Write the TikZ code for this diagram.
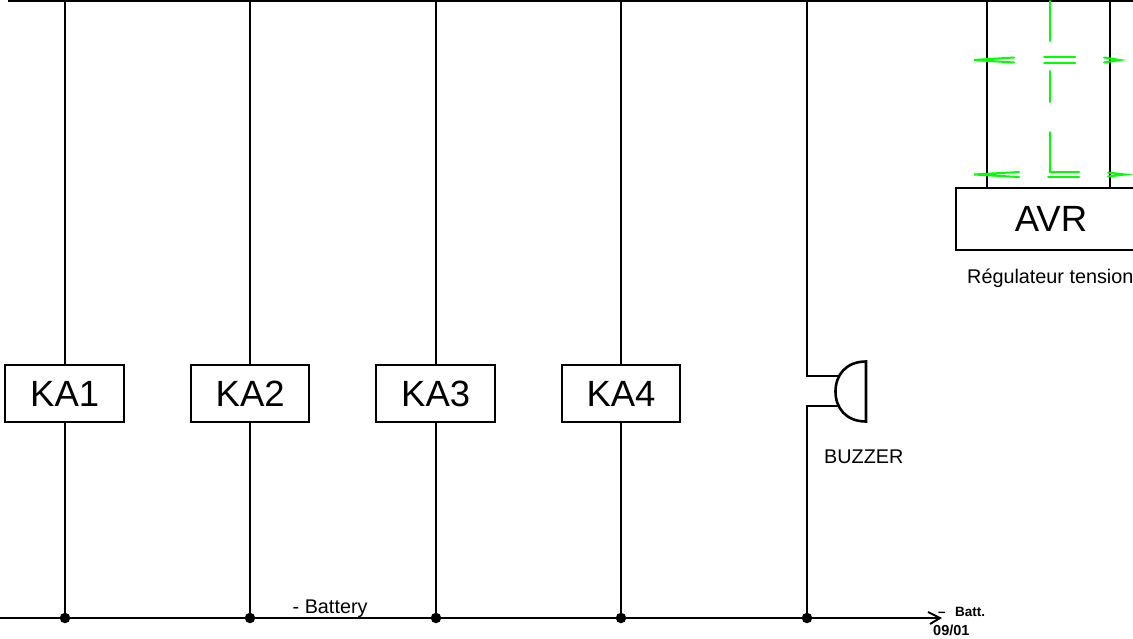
\documentclass[tikz,border=0pt]{standalone}
\usepackage{fontspec}
\setmainfont{Liberation Sans}
\newcommand{\lowered}[2]{\raisebox{-#1pt}{#2}}
\tikzset{
  wire/.style={draw=black,line width=1.8pt},
  relay/.style={draw=black,line width=2pt,minimum width=118.5pt,minimum height=57pt,inner sep=0pt,font=\fontsize{36.5}{36.5}\selectfont},
  avrbox/.style={draw=black,line width=2pt,minimum width=190pt,minimum height=62pt,inner sep=0pt,font=\fontsize{36.5}{36.5}\selectfont},
  junction/.style={circle,fill=black,minimum size=10.5pt,inner sep=0pt},
  lbl/.style={inner sep=0pt,font=\fontsize{19.8}{20}\selectfont},
  small/.style={inner sep=0pt,font=\fontsize{13.5}{14}\selectfont\bfseries},
  greenline/.style={draw=green,line width=2pt,line cap=round},
  x=1pt,y=-1pt
}
\begin{document}
\begin{tikzpicture}
\useasboundingbox (0,0) rectangle (1133,638);
\clip (0,0) rectangle (1133,638);
% relays
\node[relay] (KA1) at (64.7,393.5) {\lowered{2}{KA1}};
\node[relay] (KA2) at (250.2,393.5) {\lowered{2}{KA2}};
\node[relay] (KA3) at (435.7,393.5) {\lowered{2}{KA3}};
\node[relay] (KA4) at (621,393.5) {\lowered{2}{KA4}};
\node[avrbox] (AVR) at (1051,219) {\lowered{2.5}{AVR}};
% rails
\coordinate (topL) at (8,1.2);
\coordinate (topR) at (1133,1.2);
\coordinate (botL) at (0,618);
\coordinate (botR) at (940,618);
\draw[wire,line width=2pt] (topL) -- (topR);
\draw[wire] (botL) -- (botR);
% junctions
\node[junction] (j1) at (65,618) {};
\node[junction] (j2) at (250,618) {};
\node[junction] (j3) at (436,618) {};
\node[junction] (j4) at (621,618) {};
\node[junction] (j5) at (807,618) {};
% rail taps
\coordinate (t1) at (65,1.2);
\coordinate (t2) at (250,1.2);
\coordinate (t3) at (436,1.2);
\coordinate (t4) at (621,1.2);
\coordinate (t5) at (807,1.2);
\coordinate (t6) at (987,1.2);
\coordinate (t7) at (1110,1.2);
\draw[wire] (t1) -- (KA1.north -| t1);
\draw[wire] (t2) -- (KA2.north -| t2);
\draw[wire] (t3) -- (KA3.north -| t3);
\draw[wire] (t4) -- (KA4.north -| t4);
\draw[wire] (KA1.south -| j1) -- (j1);
\draw[wire] (KA2.south -| j2) -- (j2);
\draw[wire] (KA3.south -| j3) -- (j3);
\draw[wire] (KA4.south -| j4) -- (j4);
\draw[wire] (t6) -- (987,188);
\draw[wire] (t7) -- (1110,188);
% buzzer
\coordinate (buzA) at (838,376);
\coordinate (buzB) at (838,406);
\draw[wire] (t5) -- (807,376) -- (buzA);
\draw[wire] (j5) -- (807,406) -- (buzB);
\draw[draw=black,line width=2.6pt] (866,361.5) .. controls (846,361.5) and (835.5,375) .. (835.5,391.5) .. controls (835.5,408) and (846,421.5) .. (866,421.5) -- cycle;
% arrow chevron
\draw[wire,line width=2pt] (928,612) -- (botR) -- (930,624);
% green
\draw[greenline] (1050,1) -- (1050,41);
\draw[greenline] (1050,71) -- (1050,102);
\draw[greenline] (1050,132) -- (1050,172) -- (1079,172);
\draw[greenline] (1048,177) -- (1079,177);
\draw[greenline] (1044,57) -- (1075,57);
\draw[greenline] (1044,62.5) -- (1075,62.5);
\draw[greenline] (1014,57.5) -- (974,60) -- (1014,62.5);
\draw[greenline] (1104,57.5) -- (1120,60) -- (1104,62.5);
\draw[greenline] (1019,172) -- (974,174.5) -- (1019,177);
\draw[greenline] (1108,172.5) -- (1125,174.5) -- (1108,176.5);
% labels
\node[lbl,anchor=west] (regl) at (967,278) {Régulateur tension};
\node[lbl,anchor=west] (buzl) at (824,456.5) {BUZZER};
\node[lbl,anchor=west] (batl) at (292.5,609) {- Battery};
\node[small,anchor=west] (bat2) at (938,612) {–\hspace{9.5pt}Batt.};
\node[small,anchor=west,font=\fontsize{14.5}{15}\selectfont\bfseries] (bat3) at (933,630.5) {09/01};
\end{tikzpicture}
\end{document}
